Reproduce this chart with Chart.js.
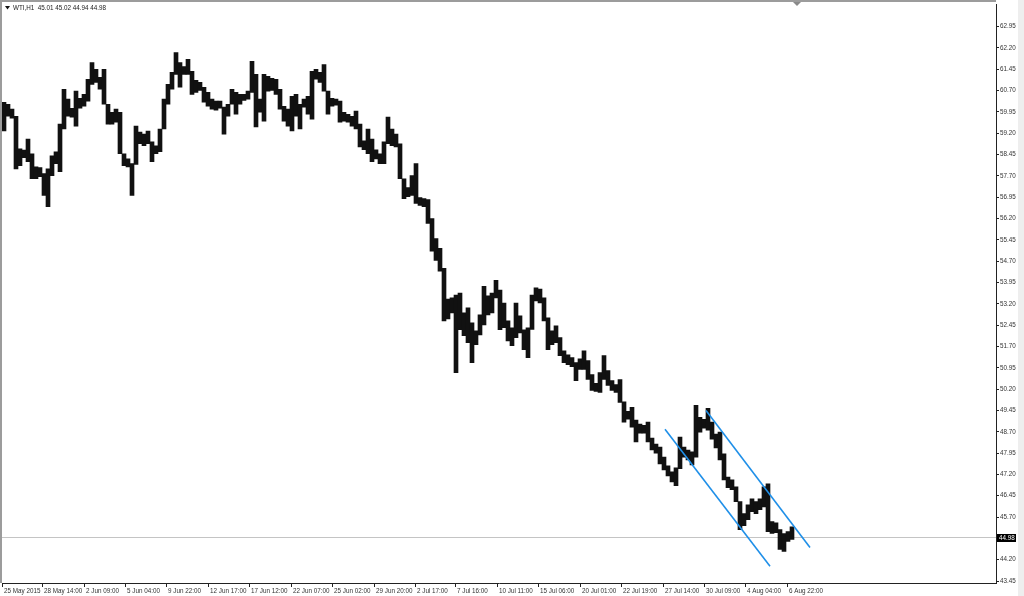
<!DOCTYPE html>
<html><head><meta charset="utf-8">
<script src="https://cdn.jsdelivr.net/npm/chart.js@4.4.1/dist/chart.umd.min.js"></script>
<style>html,body{margin:0;padding:0;background:#fff;}canvas{display:block;}</style>
</head><body>
<canvas id="c" width="1024" height="596"></canvas>
<script>
const symbol = 'WTI,H1';
const lastOHLC = ['45.01', '45.02', '44.94', '44.98'];
const lastPrice = 44.98;

// high / low of each chart column (about 6 hourly bars per column)
const highs = [
  60.29, 60.22, 60.05, 59.80, 58.65, 58.61, 59.00, 58.48, 58.02, 57.99,
  57.78, 57.95, 58.41, 58.55, 59.52, 60.75, 60.40, 60.08, 60.68, 60.43,
  60.57, 61.10, 61.69, 61.45, 61.17, 61.45, 60.22, 59.94, 60.05, 59.94,
  58.48, 58.30, 58.13, 59.45, 59.24, 59.17, 59.28, 58.90, 58.76, 59.35,
  60.40, 60.92, 61.34, 62.04, 61.69, 61.55, 61.80, 61.38, 61.06, 60.99,
  60.82, 60.64, 60.40, 60.33, 60.33, 60.12, 60.22, 60.75, 60.64, 60.57,
  60.57, 60.68, 61.73, 61.27, 60.40, 61.27, 61.20, 61.13, 61.10, 60.75,
  60.15, 60.05, 60.50, 60.57, 60.22, 60.40, 60.50, 61.38, 61.45, 61.34,
  61.62, 60.68, 60.43, 60.40, 60.33, 59.94, 59.87, 59.80, 59.98, 59.52,
  58.93, 59.35, 59.00, 58.62, 58.48, 58.90, 59.77, 59.35, 59.17, 58.83,
  57.60, 57.29, 57.71, 58.13, 56.94, 56.90, 56.87, 56.20, 55.50, 55.15,
  54.45, 53.37, 53.41, 53.51, 53.58, 52.88, 53.06, 52.53, 52.25, 52.81,
  53.82, 53.48, 53.58, 54.03, 53.68, 53.23, 52.60, 52.36, 53.23, 52.78,
  52.29, 52.36, 53.51, 53.76, 53.72, 53.41, 52.71, 52.25, 52.43, 52.01,
  51.55, 51.41, 51.31, 51.13, 51.27, 51.55, 51.20, 50.71, 50.40, 50.78,
  51.38, 50.85, 50.50, 50.36, 50.54, 49.75, 49.42, 49.56, 49.11, 48.97,
  48.93, 49.04, 48.48, 48.27, 48.16, 47.81, 47.50, 47.29, 47.43, 48.51,
  48.16, 48.06, 47.99, 49.63, 49.21, 49.14, 49.52, 49.04, 48.62, 48.69,
  47.92, 47.11, 47.01, 46.76, 46.24, 45.82, 46.13, 46.34, 46.24, 46.34,
  46.76, 46.87, 45.54, 45.50, 45.26, 45.12, 45.19, 45.36
];
const lows = [
  59.28, 59.80, 59.73, 57.95, 58.06, 58.34, 58.20, 57.60, 57.60, 57.67,
  57.01, 56.62, 57.71, 58.13, 57.85, 59.35, 59.80, 59.77, 59.45, 60.08,
  60.15, 60.33, 60.92, 60.99, 60.75, 60.22, 59.52, 59.52, 59.59, 58.48,
  58.06, 58.02, 57.01, 58.10, 58.83, 58.76, 58.83, 58.20, 58.48, 58.55,
  59.35, 60.22, 60.75, 61.27, 60.82, 61.27, 61.27, 60.57, 60.64, 60.71,
  60.29, 60.15, 60.05, 60.01, 60.08, 59.17, 59.80, 60.22, 59.87, 60.22,
  60.36, 60.40, 60.64, 59.42, 59.94, 59.63, 60.68, 60.71, 60.57, 60.05,
  59.63, 59.45, 59.28, 59.80, 59.35, 60.12, 59.87, 59.70, 61.10, 60.99,
  60.68, 59.87, 60.15, 60.19, 59.59, 59.63, 59.59, 59.45, 59.35, 58.72,
  58.62, 58.48, 58.20, 58.30, 58.13, 58.13, 58.83, 58.76, 58.72, 57.60,
  56.90, 56.97, 57.01, 56.73, 56.66, 56.62, 56.03, 55.05, 54.73, 54.35,
  52.60, 52.67, 52.88, 50.78, 52.29, 52.08, 51.83, 51.13, 51.76, 52.11,
  52.46, 52.81, 52.88, 53.41, 52.29, 52.36, 51.90, 51.73, 52.01, 52.18,
  51.59, 51.31, 52.30, 53.30, 53.23, 52.60, 51.59, 51.76, 51.83, 51.38,
  51.13, 51.06, 50.99, 50.50, 50.89, 50.89, 50.54, 50.15, 50.12, 50.08,
  50.54, 50.33, 50.15, 50.08, 49.73, 49.04, 49.14, 48.86, 48.34, 48.65,
  48.65, 48.34, 48.06, 47.95, 47.57, 47.36, 47.15, 46.94, 46.80, 47.40,
  47.81, 47.71, 47.53, 47.81, 48.69, 48.83, 48.76, 48.44, 48.13, 47.71,
  47.01, 46.73, 46.66, 46.24, 45.26, 45.40, 45.61, 45.89, 45.82, 45.96,
  46.06, 45.19, 45.12, 45.15, 44.56, 44.49, 44.84, 44.91
];

const xTickLabels = ['25 May 2015', '28 May 14:00', '2 Jun 09:00', '5 Jun 04:00', '9 Jun 22:00',
  '12 Jun 17:00', '17 Jun 12:00', '22 Jun 07:00', '25 Jun 02:00', '29 Jun 20:00',
  '2 Jul 17:00', '7 Jul 16:00', '10 Jul 11:00', '15 Jul 06:00', '20 Jul 01:00',
  '22 Jul 19:00', '27 Jul 14:00', '30 Jul 09:00', '4 Aug 04:00', '6 Aug 22:00'];
const xTickCols = [-0.5, 9.5, 20, 30.25, 40.5, 51, 61.25, 71.75, 82, 92.5,
  102.75, 112.75, 123.25, 133.5, 144, 154.25, 164.75, 175, 185.25, 195.75];

const yTickLabels = ['62.95', '62.20', '61.45', '60.70', '59.95', '59.20', '58.45', '57.70', '56.95',
  '56.20', '55.45', '54.70', '53.95', '53.20', '52.45', '51.70', '50.95', '50.20', '49.45',
  '48.70', '47.95', '47.20', '46.45', '45.70', '44.95', '44.20', '43.45'];

// trend channel (column, price)
const channelUpper = [{x: 175.5, y: 49.45}, {x: 201.5, y: 44.63}];
const channelLower = [{x: 165.25, y: 48.79}, {x: 191.5, y: 43.97}];

const FONT = 'Liberation Sans';

const decor = {
  id: 'decor',
  beforeDraw(chart) {
    const c = chart.ctx;
    c.save();
    c.fillStyle = '#ffffff';
    c.fillRect(0, 0, chart.width, chart.height);
    c.fillStyle = '#eeeeee';
    c.fillRect(1018, 0, 6, chart.height);
    c.restore();
  },
  afterDraw(chart) {
    const c = chart.ctx, ca = chart.chartArea;
    const xs = chart.scales.x, ys = chart.scales.y;
    c.save();
    c.fillStyle = '#9c9c9c';
    c.fillRect(0, 0, ca.right, 2);
    c.fillRect(0, 0, 2, ca.bottom);
    const sx = Math.round(xs.getPixelForValue(198.25));
    c.fillStyle = '#8a8a8a';
    c.beginPath(); c.moveTo(sx - 4, 2); c.lineTo(sx + 4, 2); c.lineTo(sx, 6); c.closePath(); c.fill();
    c.fillStyle = '#111';
    c.beginPath(); c.moveTo(5, 6); c.lineTo(10, 6); c.lineTo(7.5, 9.5); c.closePath(); c.fill();
    c.font = '6.3px "' + FONT + '"';
    c.textBaseline = 'middle';
    c.textAlign = 'left';
    c.fillStyle = '#222';
    c.fillText(symbol + '  ' + lastOHLC.join(' '), 13, 8);
    const py = Math.round(ys.getPixelForValue(lastPrice));
    c.fillStyle = '#000';
    c.fillRect(ca.right + 1, py - 4, 19, 8);
    c.fillStyle = '#fff';
    c.fillText(lastOHLC[3], ca.right + 3, py + 0.5);
    c.restore();
  }
};

new Chart(document.getElementById('c'), {
  data: {
    datasets: [
      {
        type: 'line', order: 3,
        data: [{x: -0.5, y: lastPrice}, {x: 248, y: lastPrice}],
        borderColor: '#c4c4c4', borderWidth: 1, pointRadius: 0
      },
      {
        type: 'bar', order: 2,
        data: highs.map((h, i) => ({x: i, y: [lows[i], h]})),
        backgroundColor: '#111', borderWidth: 0,
        barThickness: 4, categoryPercentage: 1, barPercentage: 1
      },
      {
        type: 'line', order: 1,
        data: channelUpper, borderColor: '#1f8fe8', borderWidth: 1.6, pointRadius: 0
      },
      {
        type: 'line', order: 1,
        data: channelLower, borderColor: '#1f8fe8', borderWidth: 1.6, pointRadius: 0
      }
    ]
  },
  options: {
    responsive: false, animation: false, devicePixelRatio: 1,
    layout: {padding: {left: 2, top: 0, right: 0, bottom: 0}},
    plugins: {legend: {display: false}, tooltip: {enabled: false}},
    scales: {
      x: {
        type: 'linear', position: 'bottom', min: -0.5, max: 248, bounds: 'data', offset: false,
        afterBuildTicks: s => { s.ticks = xTickCols.map(v => ({value: v})); },
        afterFit: s => { s.height = 13; },
        grid: {drawOnChartArea: false, offset: false, tickLength: 4, tickColor: '#222', tickWidth: 1},
        border: {color: '#222', width: 1},
        ticks: {
          autoSkip: false, maxRotation: 0, minRotation: 0, align: 'start', padding: 0, labelOffset: 2,
          font: {family: FONT, size: 6.3}, color: '#333',
          callback: (v, i) => xTickLabels[i]
        }
      },
      y: {
        type: 'linear', position: 'right', min: 43.38, max: 63.72, bounds: 'data',
        afterBuildTicks: s => { s.ticks = yTickLabels.map(t => ({value: parseFloat(t)})); },
        afterFit: s => { s.width = 28; },
        grid: {drawOnChartArea: false, tickLength: 3, tickColor: '#222', tickWidth: 1},
        border: {color: '#222', width: 1},
        ticks: {
          autoSkip: false, padding: 1,
          font: {family: FONT, size: 6.3}, color: '#333',
          callback: (v, i) => yTickLabels[i]
        }
      }
    }
  },
  plugins: [decor]
});
</script>
</body></html>
